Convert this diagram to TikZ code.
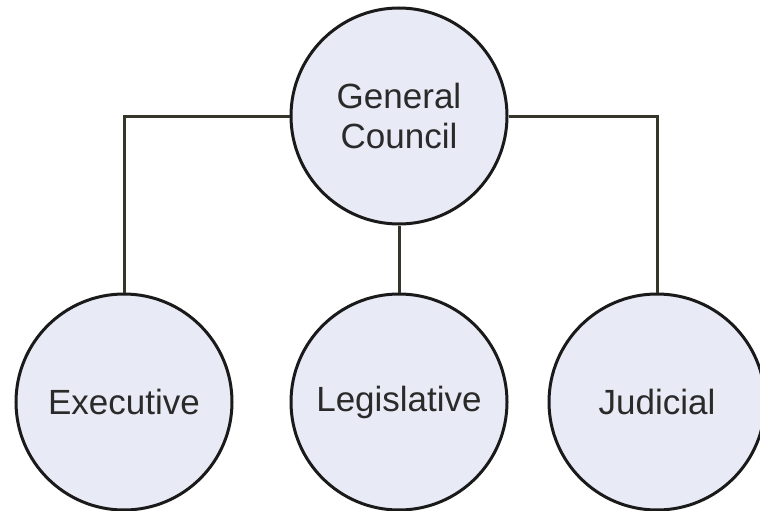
\documentclass[tikz,border=0pt]{standalone}
\usepackage{fontspec}
\setmainfont{Liberation Sans}
\usepackage{tikz}
\usetikzlibrary{positioning}

\definecolor{relleno}{HTML}{E8EBF5}
\definecolor{borde}{HTML}{1A1A1A}
\definecolor{linea}{HTML}{35352A}
\definecolor{texto}{HTML}{2A2A2A}

\begin{document}
\begin{tikzpicture}[x=1pt, y=-1pt,
    organo/.style={circle, draw=borde, line width=3pt, fill=relleno,
        minimum size=216pt, inner sep=0pt, align=center, text=texto,
        font=\fontsize{35}{40}\selectfont}]

    % Marco
    \useasboundingbox (0,0) rectangle (760,511);

    % Consejo
    \node[organo] (gc) at (399,116) {General\\Council};

    % Poderes
    \node[organo] (exe) at (124,402) {Executive};
    \node[organo] (leg) at (399,402) {Legislative};
    \node[organo] (jud) at (657,402) {Judicial};

    % Conexiones
    \draw[linea, line width=3pt] (gc.west) -| (exe.north);
    \draw[linea, line width=3pt] (gc.east) -| (jud.north);
    \draw[linea, line width=3pt] (gc.south) -- (leg.north);
\end{tikzpicture}
\end{document}
